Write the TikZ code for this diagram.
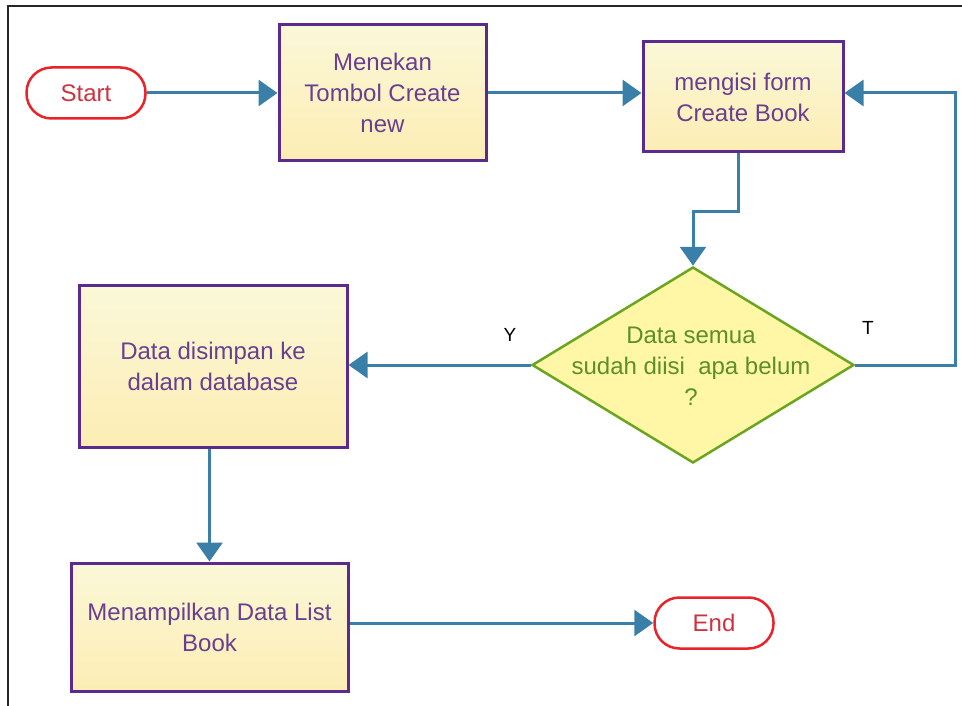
\documentclass[tikz,border=0pt]{standalone}
\usepackage{fontspec}
\setmainfont{Liberation Sans}
\usetikzlibrary{arrows.meta,shapes.geometric}

\definecolor{flowblue}{HTML}{3A7FA8}
\definecolor{boxedge}{HTML}{5C2A8C}
\definecolor{boxtext}{HTML}{6A3F90}
\definecolor{boxtop}{HTML}{FBF8D8}
\definecolor{boxbot}{HTML}{FCEDB4}
\definecolor{decfill}{HTML}{FFF6A6}
\definecolor{decedge}{HTML}{6BA51F}
\definecolor{dectext}{HTML}{5C8F26}
\definecolor{termred}{HTML}{E8232A}
\definecolor{termtext}{HTML}{CC3340}

\begin{document}
\begin{tikzpicture}[x=1pt,y=-1pt,
  every node/.style={font=\fontsize{24}{31}\selectfont},
  process/.style={rectangle, draw=boxedge, line width=3pt, top color=boxtop,
    bottom color=boxbot, text=boxtext, align=center, inner sep=0pt},
  terminal/.style={rectangle, rounded corners=25pt, draw=termred, line width=2.5pt,
    fill=white, text=termtext, minimum width=119pt, minimum height=51pt},
  decision/.style={diamond, draw=decedge, line width=2.5pt, fill=decfill,
    minimum width=322pt, minimum height=196pt, inner sep=0pt},
  flow/.style={draw=flowblue, line width=3pt, -{Triangle[length=19pt,width=26pt]}},
  branch/.style={font=\fontsize{19}{22}\selectfont, text=black}
]
\useasboundingbox (0,0) rectangle (962,706);

% page frame
\draw[line width=2pt, black!85] (8,706) -- (8,6) -- (962,6);

% nodes
\node[terminal] (start) at (86,93) {Start};
\node[process, minimum width=207pt, minimum height=136pt] (b1) at (382.5,93)
  {Menekan\\Tombol Create\\new};
\node[process, minimum width=200pt, minimum height=110pt] (b2) at (743,97)
  {mengisi form\\Create Book};
\node[decision] (dec) at (693,365) {};
\node[text=dectext, align=center] (dectxt) at (691,366)
  {Data semua\\sudah diisi\ \ apa belum\\?};
\node[process, minimum width=268pt, minimum height=162pt] (b3) at (213,366)
  {Data disimpan ke\\dalam database};
\node[process, minimum width=277pt, minimum height=128pt] (b4) at (209.5,627)
  {Menampilkan Data List\\Book};
\node[terminal] (end) at (714,623) {End};

% branch labels
\node[branch] (ylab) at (510,335) {Y};
\node[branch] (tlab) at (868,328) {T};

% connectors
\coordinate (loop) at (955,365);
\draw[flow] (start) -- (b1);
\draw[flow] (b1.east) -- (b1.east -| b2.west);
\draw[flow] ([xshift=-5pt]b2.south) -- ++(0,58) -| (dec.north);
\draw[flow] (dec.east) -- (loop) |- ([yshift=4pt]b2.east);
\draw[flow] (dec.west) -- (dec.west -| b3.east);
\draw[flow] (b4.north |- b3.south) -- (b4.north);
\draw[flow] (b4.east |- end) -- (end.west);
\end{tikzpicture}
\end{document}
